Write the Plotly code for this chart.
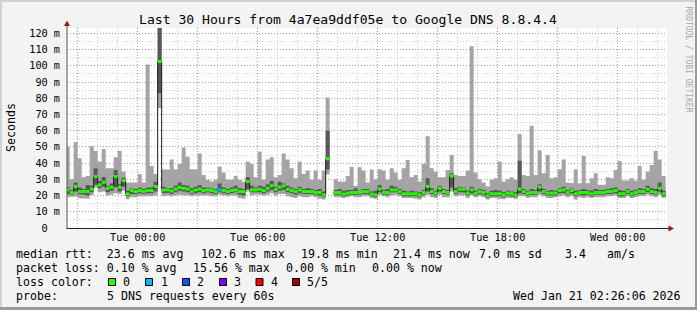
import plotly.graph_objects as go
from datetime import datetime, timedelta

# ---------------- data (12-minute consolidated steps, ms) ----------------
STEP_START = datetime(2026, 1, 19, 20, 24)
STEP_MINUTES = 12

median = [23.5, 21.9, 25.6, 22.5, 22.5, 22.5, 24.0, 31.7, 26.6, 28.2,
          24.5, 25.2, 31.7, 25.2, 29.2, 21.0, 23.1, 22.5, 23.1, 22.5,
          23.1, 23.1, 25.6, 102.6, 23.5, 23.5, 22.8, 24.0, 25.0, 24.5,
          24.0, 22.5, 23.5, 24.0, 23.1, 23.5, 23.1, 22.5, 23.5, 23.1,
          22.5, 23.1, 23.5, 22.5, 22.5, 28.6, 23.5, 23.5, 23.9, 23.1,
          24.5, 26.0, 23.9, 25.2, 26.0, 23.9, 23.1, 22.5, 23.5, 22.5,
          22.5, 22.5, 21.9, 21.9, 20.4, 42.7, None, 21.9, 21.9, 20.9,
          21.5, 21.9, 21.9, 21.9, 22.5, 22.5, 20.9, 20.4, 24.0, 21.9,
          21.9, 23.5, 23.5, 22.5, 21.1, 21.1, 21.1, 21.1, 20.4, 21.9,
          25.6, 22.5, 21.5, 24.5, 22.5, 21.9, 32.1, 22.5, 23.9, 23.9,
          21.5, 23.5, 21.5, 22.5, 21.9, 19.8, 21.1, 21.1, 21.1, 20.4,
          21.5, 21.1, 20.2, 24.0, 22.5, 21.5, 21.9, 21.9, 25.2, 22.5,
          21.5, 21.5, 21.5, 23.1, 23.5, 21.9, 23.1, 21.1, 21.9, 21.9,
          21.9, 21.1, 21.9, 21.9, 21.9, 22.5, 22.5, 23.1, 21.1, 21.1,
          22.5, 21.1, 21.9, 22.5, 22.5, 23.9, 22.5, 21.9, 24.5, 21.1]

upper_inner = [25.2, 23.5, 28.0, 25.0, 24.0, 26.5, 26.0, 36.8, 29.0, 31.5,
               26.0, 27.5, 35.8, 27.0, 31.0, 23.0, 24.5, 24.0, 24.8, 24.0,
               24.8, 25.0, 28.5, 130.0, 25.5, 24.8, 24.5, 26.0, 28.0, 26.5,
               26.0, 24.5, 25.5, 26.5, 25.0, 25.0, 24.5, 24.0, 27.5, 25.0,
               24.0, 25.0, 26.0, 24.5, 24.0, 31.5, 26.0, 25.0, 26.0, 25.5,
               27.0, 29.0, 25.5, 28.5, 27.5, 26.0, 25.0, 24.0, 25.5, 24.0,
               24.5, 24.0, 23.5, 24.0, 22.5, 60.0, None, 23.5, 24.0, 23.0,
               23.5, 23.5, 24.5, 23.0, 24.0, 24.0, 22.5, 23.0, 26.5, 23.5,
               24.0, 26.0, 25.5, 24.0, 23.0, 22.5, 23.0, 22.5, 22.0, 23.5,
               30.7, 24.5, 23.0, 26.0, 24.0, 23.5, 33.7, 24.5, 25.5, 25.0,
               23.0, 25.5, 23.0, 24.0, 23.5, 21.5, 23.0, 23.5, 23.0, 22.0,
               23.0, 22.5, 22.0, 41.5, 24.0, 23.0, 24.0, 23.5, 27.0, 24.0,
               23.0, 23.5, 23.0, 24.5, 25.5, 23.5, 24.5, 23.0, 23.5, 24.0,
               23.5, 23.0, 24.0, 23.5, 23.5, 24.0, 24.5, 25.0, 23.5, 23.0,
               24.0, 23.0, 23.5, 24.5, 24.0, 26.0, 24.5, 24.0, 28.0, 23.0]

lower_inner = [21.0, 20.5, 22.5, 20.8, 20.6, 20.0, 22.0, 26.6, 24.5, 25.5,
               22.0, 23.0, 25.2, 22.5, 25.5, 19.5, 21.0, 20.8, 21.5, 21.0,
               21.5, 21.5, 22.5, 83.0, 21.5, 21.8, 21.0, 22.0, 23.0, 22.5,
               22.0, 21.0, 21.5, 22.0, 21.5, 22.0, 21.5, 21.0, 22.0, 21.5,
               21.0, 21.5, 22.0, 20.5, 20.0, 24.0, 22.0, 22.0, 22.0, 21.5,
               22.5, 23.5, 22.0, 23.0, 23.5, 22.0, 21.5, 20.5, 21.5, 21.0,
               21.0, 21.0, 20.5, 20.0, 19.0, 36.0, None, 20.5, 20.5, 19.5,
               20.0, 20.5, 20.5, 20.5, 21.0, 21.0, 19.5, 19.0, 22.0, 20.5,
               20.5, 22.0, 22.0, 21.0, 19.5, 19.5, 19.5, 19.5, 19.0, 20.5,
               22.5, 21.0, 20.0, 22.5, 21.0, 20.5, 25.0, 21.0, 22.0, 22.0,
               20.0, 21.5, 20.0, 21.0, 20.5, 18.5, 19.5, 19.5, 19.5, 19.0,
               20.0, 19.5, 19.0, 21.5, 21.0, 20.0, 20.5, 20.5, 22.5, 21.0,
               20.0, 20.0, 20.0, 21.5, 21.5, 20.5, 21.5, 19.5, 20.5, 20.0,
               20.5, 19.5, 20.5, 20.5, 20.5, 21.0, 21.0, 21.5, 19.5, 19.5,
               21.0, 19.5, 20.5, 21.0, 21.0, 22.0, 21.0, 20.5, 22.5, 19.5]

rtt_min = [19.0, 19.0, 19.4, 18.4, 18.0, 18.0, 20.4, 25.0, 22.0, 22.5,
           20.0, 20.5, 21.5, 21.0, 23.0, 17.8, 19.0, 19.0, 19.5, 19.2,
           19.5, 19.5, 20.0, 74.0, 19.5, 20.0, 19.5, 20.0, 20.5, 20.0,
           20.0, 19.5, 20.0, 20.0, 19.8, 20.0, 19.5, 19.5, 20.5, 20.0,
           19.5, 20.0, 20.0, 18.5, 18.0, 22.5, 20.0, 20.5, 20.5, 20.0,
           20.5, 21.5, 20.0, 21.0, 21.0, 19.5, 19.0, 18.5, 19.5, 19.0,
           19.0, 19.5, 19.0, 18.0, 17.5, 33.0, None, 19.0, 19.0, 18.5,
           19.0, 19.5, 19.0, 19.0, 19.5, 19.5, 18.5, 18.0, 20.5, 19.5,
           19.0, 20.0, 20.5, 19.5, 18.5, 18.5, 18.5, 18.0, 17.5, 19.0,
           20.5, 19.0, 18.5, 20.5, 19.0, 19.0, 22.5, 19.5, 20.0, 20.0,
           18.5, 20.0, 19.0, 19.5, 19.0, 17.5, 18.5, 18.5, 18.0, 17.8,
           18.5, 18.5, 18.0, 19.5, 19.5, 18.5, 19.0, 19.0, 20.5, 19.5,
           18.5, 18.5, 19.0, 19.5, 20.0, 19.0, 19.5, 17.5, 19.0, 18.5,
           19.0, 18.5, 19.0, 19.0, 19.0, 19.5, 19.5, 20.0, 18.5, 18.5,
           19.5, 18.5, 19.0, 19.5, 19.5, 20.5, 19.5, 19.0, 20.5, 18.5]

rtt_max = [50.1, 30.0, 53.0, 43.0, 31.3, 32.0, 50.5, 47.4, 41.0, 48.7,
           36.8, 36.8, 43.6, 47.6, 34.8, 28.0, 28.0, 28.0, 33.3, 28.0,
           100.8, 38.2, 33.3, 135.0, 36.2, 36.0, 42.3, 36.2, 39.5, 49.7,
           44.0, 36.2, 36.0, 46.0, 32.7, 29.7, 28.6, 29.7, 37.8, 34.2,
           29.7, 29.7, 32.0, 29.7, 28.5, 41.0, 39.5, 31.3, 47.0, 29.7,
           42.3, 43.6, 31.3, 32.7, 46.0, 42.3, 36.8, 30.7, 41.0, 33.3,
           35.4, 29.7, 35.4, 29.7, 35.4, 80.5, None, 30.0, 28.6, 28.6,
           32.0, 37.8, 26.0, 37.4, 35.4, 28.0, 36.0, 30.0, 36.2, 35.4,
           29.7, 36.8, 34.2, 29.7, 36.8, 42.0, 31.3, 32.7, 28.6, 39.5,
           56.6, 36.8, 34.8, 31.3, 31.3, 35.8, 45.0, 32.7, 32.0, 32.0,
           35.4, 112.0, 34.2, 30.0, 28.0, 25.6, 29.7, 30.7, 41.0, 28.6,
           30.0, 31.3, 29.7, 58.0, 32.7, 32.0, 63.0, 32.7, 48.0, 33.7,
           45.0, 30.7, 31.3, 36.2, 42.3, 28.0, 27.6, 36.2, 27.6, 44.4,
           27.6, 30.7, 33.7, 26.6, 26.6, 31.3, 30.7, 35.8, 41.3, 29.3,
           29.3, 30.7, 29.3, 38.2, 29.7, 34.8, 38.9, 47.6, 42.3, 32.0]

# steps with packet loss (step index -> lost pings out of 5)
loss_steps = {38: 1}

loss_colors = ["#26ff00", "#00b8ff", "#0059ff", "#7e00ff", "#ff0000", "#a10000"]
loss_labels = ["0", "1", "2", "3", "4", "5/5"]

y_tickvals = [0, 10, 20, 30, 40, 50, 60, 70, 80, 90, 100, 110, 120]
y_ticktext = ["0\u00a0\u00a0", "10 m", "20 m", "30 m", "40 m", "50 m", "60 m",
              "70 m", "80 m", "90 m", "100 m", "110 m", "120 m"]

x_tickvals = ["2026-01-19 21:00", "2026-01-20 00:00", "2026-01-20 03:00",
              "2026-01-20 06:00", "2026-01-20 09:00", "2026-01-20 12:00",
              "2026-01-20 15:00", "2026-01-20 18:00", "2026-01-20 21:00",
              "2026-01-21 00:00"]
x_ticktext = ["", "Tue 00:00", "", "Tue 06:00", "", "Tue 12:00", "",
              "Tue 18:00", "", "Wed 00:00"]

X_START = "2026-01-19 20:28:00"
X_END = "2026-01-21 02:28:00"

title = "Last 30 Hours from 4a7ea9ddf05e to Google DNS 8.8.4.4"

# ---------------- geometry helpers ----------------
W, H = 697, 310
L, R, T, B = 67, 30, 28, 82
PW, PH = W - L - R, H - T - B


def px(x):
    return (x - L) / PW


def py(y):
    return (H - B - y) / PH


MONO = "DejaVu Sans Mono"

n = len(median)
starts = [STEP_START + timedelta(minutes=STEP_MINUTES * k) for k in range(n)]
ends = [s + timedelta(minutes=STEP_MINUTES) for s in starts]


def segments(idx_ok):
    """split step indices into runs of consecutive valid steps"""
    runs, cur = [], []
    for k in range(n):
        if idx_ok(k):
            cur.append(k)
        elif cur:
            runs.append(cur)
            cur = []
    if cur:
        runs.append(cur)
    return runs


def band(lower, upper):
    """step-shaped closed polygons between lower and upper (data coords)"""
    xs, ys = [], []
    for run in segments(lambda k: lower[k] is not None and upper[k] is not None):
        for k in run:
            xs += [starts[k], ends[k]]
            ys += [upper[k], upper[k]]
        for k in reversed(run):
            xs += [ends[k], starts[k]]
            ys += [lower[k], lower[k]]
        xs.append(None)
        ys.append(None)
    return xs, ys


fig = go.Figure()

bx, by = band(rtt_min, rtt_max)
fig.add_trace(go.Scatter(x=bx, y=by, mode="lines", fill="toself", fillcolor="#a4a4a4",
                         line=dict(width=0), hoverinfo="skip"))
bx, by = band(lower_inner, upper_inner)
fig.add_trace(go.Scatter(x=bx, y=by, mode="lines", fill="toself", fillcolor="#585858",
                         line=dict(width=0), hoverinfo="skip"))

# median connecting line
line_x = starts + [ends[-1]]
line_y = median + [median[-1]]
fig.add_trace(go.Scatter(x=line_x, y=line_y, mode="lines",
                         line=dict(color="#1a1a1a", width=1, shape="hv"),
                         connectgaps=False, hoverinfo="skip"))

# loss-coloured median marks, one trace per loss level
for lvl, col in enumerate(loss_colors):
    mx, my = [], []
    for k in range(n):
        if median[k] is None or loss_steps.get(k, 0) != lvl:
            continue
        mx += [starts[k], ends[k], None]
        my += [median[k], median[k], None]
    if mx:
        fig.add_trace(go.Scatter(x=mx, y=my, mode="lines",
                                 line=dict(color=col, width=3), hoverinfo="skip"))

MAJ = "rgba(214,120,120,0.75)"
MIN_ = "rgba(170,170,170,0.6)"
DOT = "1px,2px"

fig.update_xaxes(type="date", range=[X_START, X_END], tickmode="array",
                 tickvals=x_tickvals, ticktext=x_ticktext, showgrid=True,
                 gridcolor=MAJ, griddash=DOT, gridwidth=1, showline=False,
                 zeroline=False, ticks="", ticklabelstandoff=2,
                 tickfont=dict(family=MONO, size=10.2, color="#000"),
                 minor=dict(dtick=3600000, tick0="2026-01-19 21:00", showgrid=True,
                            gridcolor=MIN_, griddash=DOT, gridwidth=1, ticks=""))
fig.update_yaxes(range=[0, 200 / 1.622], tickmode="array", tickvals=y_tickvals,
                 ticktext=y_ticktext, showgrid=True, gridcolor=MAJ, griddash=DOT,
                 gridwidth=1, zeroline=False, showline=False, ticks="",
                 ticklabelstandoff=6,
                 tickfont=dict(family=MONO, size=10.2, color="#000"),
                 minor=dict(dtick=5, showgrid=True, gridcolor=MIN_, griddash=DOT,
                            gridwidth=1, ticks=""))

shapes = []
# canvas border
shapes.append(dict(type="rect", xref="paper", yref="paper", x0=px(0), x1=px(W), y0=py(0), y1=py(2),
                   fillcolor="#d2d2d2", line=dict(width=0), layer="below"))
shapes.append(dict(type="rect", xref="paper", yref="paper", x0=px(0), x1=px(2), y0=py(0), y1=py(H),
                   fillcolor="#d2d2d2", line=dict(width=0), layer="below"))
shapes.append(dict(type="rect", xref="paper", yref="paper", x0=px(0), x1=px(W), y0=py(H - 3), y1=py(H),
                   fillcolor="#9a9a9a", line=dict(width=0), layer="below"))
shapes.append(dict(type="rect", xref="paper", yref="paper", x0=px(W - 2), x1=px(W), y0=py(0), y1=py(H),
                   fillcolor="#9a9a9a", line=dict(width=0), layer="below"))
# axes with arrows
shapes.append(dict(type="line", xref="paper", yref="paper", x0=px(67), x1=px(67),
                   y0=py(228.5), y1=py(25), line=dict(color="#555", width=1)))
shapes.append(dict(type="line", xref="paper", yref="paper", x0=px(66.5), x1=px(669),
                   y0=py(228.5), y1=py(228.5), line=dict(color="#222", width=1)))
shapes.append(dict(type="path", xref="paper", yref="paper",
                   path=f"M {px(67)} {py(20.5)} L {px(64)} {py(26)} L {px(70)} {py(26)} Z",
                   fillcolor="#a01818", line=dict(width=0)))
shapes.append(dict(type="path", xref="paper", yref="paper",
                   path=f"M {px(674)} {py(228.5)} L {px(668.5)} {py(225.5)} L {px(668.5)} {py(231.5)} Z",
                   fillcolor="#a01818", line=dict(width=0)))
# loss colour swatches
swatch_x = [108.5, 145.5, 182.5, 219.5, 256.0, 292.5]
label_x = [123.3, 160.7, 197.3, 234.0, 270.7, 307.3]
for c, sx in zip(loss_colors, swatch_x):
    shapes.append(dict(type="rect", xref="paper", yref="paper", x0=px(sx), x1=px(sx + 7),
                       y0=py(278.5), y1=py(285.5), fillcolor=c, line=dict(color="#000", width=1)))

annotations = []


def txt(s, x, y, size=11.6, color="#000", anchor="left", angle=0):
    annotations.append(dict(text=s, xref="paper", yref="paper", x=px(x), y=py(y),
                            xanchor=anchor, yanchor="middle", showarrow=False,
                            textangle=angle, borderpad=0, borderwidth=0,
                            font=dict(family=MONO, size=size, color=color)))


txt(title, 347.5, 19, size=13.1, anchor="center")
txt("Seconds", 10.5, 127.5, anchor="center", angle=-90)
txt("RRDTOOL / TOBI OETIKER", 688.5, 59, size=8, color="#a8a8a8", anchor="center", angle=90)

txt("median rtt:  23.6 ms avg", 16, 254.3)
txt("102.6 ms max", 200.7, 254.3)
txt("19.8 ms min", 301, 254.3)
txt("21.4 ms now", 393.3, 254.3)
txt("7.0 ms sd", 479.3, 254.3)
txt("3.4", 565, 254.3)
txt("am/s", 606.7, 254.3)

txt("packet loss: 0.10 % avg", 16, 268.3)
txt("15.56 % max", 192.7, 268.3)
txt("0.00 % min", 286, 268.3)
txt("0.00 % now", 371.7, 268.3)

txt("loss color:", 16, 282.3)
for lab, lx in zip(loss_labels, label_x):
    txt(lab, lx, 282.3)

txt("probe:", 16, 296)
txt("5 DNS requests every 60s", 107.3, 296)
txt("Wed Jan 21 02:26:06 2026", 512.7, 296)

fig.update_layout(width=W, height=H, margin=dict(l=L, r=R, t=T, b=B, pad=0),
                  paper_bgcolor="#f3f3f3", plot_bgcolor="#ffffff",
                  showlegend=False, shapes=shapes, annotations=annotations)

fig.write_html("out.html")
